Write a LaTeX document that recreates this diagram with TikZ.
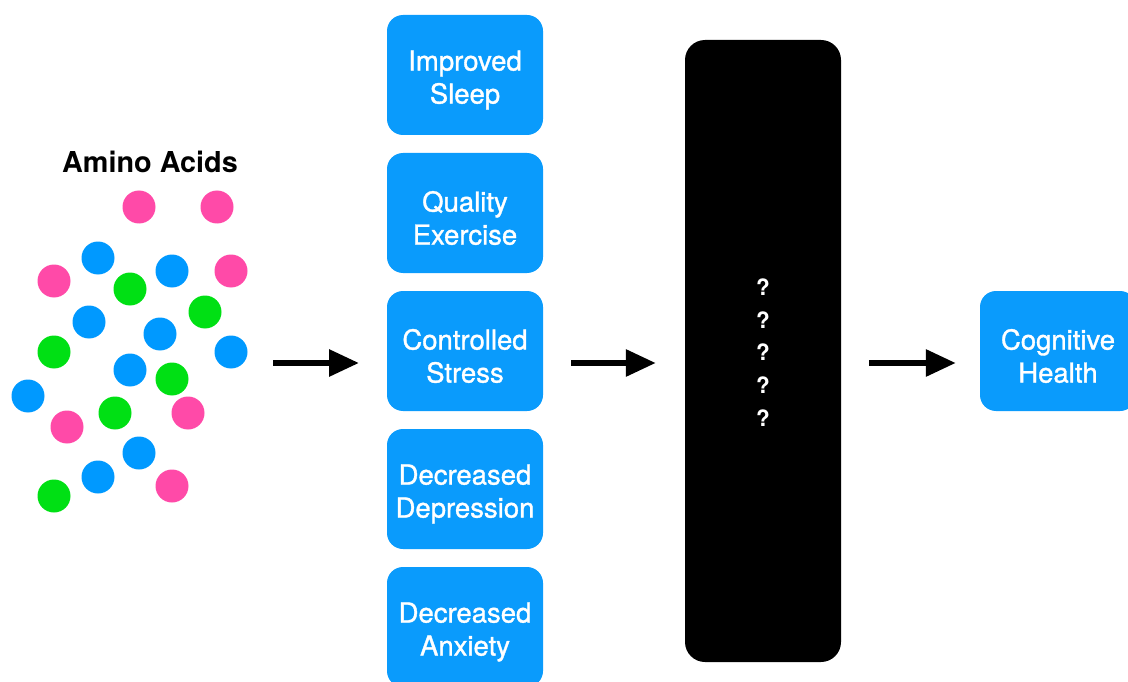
\documentclass[tikz,border=0pt]{standalone}
\usepackage{fontspec}
\setmainfont{TeX Gyre Heros}
\newfontfamily\medfont[FakeBold=1.2]{TeX Gyre Heros}
\usetikzlibrary{arrows.meta}
\definecolor{boxblue}{RGB}{10,155,252}
\definecolor{dotblue}{RGB}{0,153,255}
\definecolor{dotpink}{RGB}{255,74,168}
\definecolor{dotgreen}{RGB}{0,224,20}
\tikzset{
  factor/.style={rounded corners=16pt, fill=boxblue, minimum width=156pt, minimum height=120pt, inner sep=0pt},
  factortext/.style={text=white, align=center, inner sep=0pt,
    font=\medfont\fontsize{27.5}{33}\selectfont},
  dot/.style={circle, minimum size=33pt, inner sep=0pt},
  flow/.style={line width=6pt, -{Triangle[length=30pt,width=26pt]}},
}
\begin{document}
\begin{tikzpicture}[x=1pt,y=-1pt]
\useasboundingbox (0,0) rectangle (1128,682);
\node[font=\bfseries\fontsize{28.8}{33}\selectfont, anchor=center] (title) at (150,162) {Amino Acids};
% dots
\foreach \n/\x/\y/\c in {
  1/139/207/dotpink, 2/217/207/dotpink, 3/98/258/dotblue, 4/54/281/dotpink,
  5/130/289/dotgreen, 6/172/271/dotblue, 7/231/271/dotpink, 8/89/322/dotblue,
  9/205/312/dotgreen, 10/160/334/dotblue, 11/54/352/dotgreen, 12/231/352/dotblue,
  13/130/370/dotblue, 14/172/379/dotgreen, 15/28/396/dotblue, 16/67/427/dotpink,
  17/115/413/dotgreen, 18/188/413/dotpink, 19/139/453/dotblue, 20/98/477/dotblue,
  21/172/486/dotpink, 22/54/496/dotgreen}
  \node[dot, fill=\c] (d\n) at (\x,\y) {};
% factor boxes
\foreach \nm/\y/\txt in {sleep/75/{Improved\\Sleep}, exercise/213/{Quality\\Exercise},
  stress/351/{Controlled\\Stress}, depression/489/{Decreased\\Depression},
  anxiety/627/{Decreased\\Anxiety}}{
  \node[factor] (\nm) at (465,\y) {};
  \node[factortext] (\nm-t) at ([yshift=-5pt]\nm.center) {\txt};
}
% black box
\node[rounded corners=20pt, fill=black, minimum width=156pt, minimum height=622pt, inner sep=0pt] (unknown) at (763,351) {};
\foreach \i/\y in {1/287,2/320,3/352,4/385,5/418}
  \node[text=white, font=\bfseries\fontsize{22.5}{26}\selectfont] (q\i) at (763,\y) {?};
% outcome
\node[factor] (health) at (1058,351) {};
\node[factortext] (health-t) at ([yshift=-5pt]health.center) {Cognitive\\Health};
% arrows
\coordinate (a1s) at (273,363);
\coordinate (a1e) at (359,363);
\draw[flow] (a1s) -- (a1e);
\draw[flow, shorten <=28pt, shorten >=29pt] (stress.east |- a1s) -- (unknown.west |- a1s);
\draw[flow, shorten <=28pt, shorten >=24pt] (unknown.east |- a1s) -- (health.west |- a1s);
\end{tikzpicture}
\end{document}
